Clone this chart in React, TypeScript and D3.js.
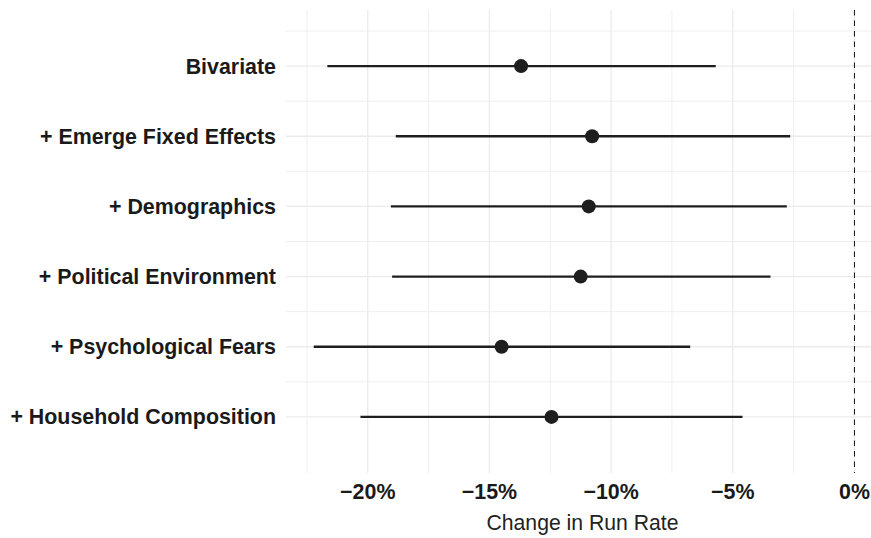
import React from "react";
import * as d3 from "d3";

const models = [
  "Bivariate",
  "+ Emerge Fixed Effects",
  "+ Demographics",
  "+ Political Environment",
  "+ Psychological Fears",
  "+ Household Composition",
];
const estimates = [-13.7, -10.78, -10.92, -11.25, -14.5, -12.45];
const lower = [-21.66, -18.85, -19.05, -19.0, -22.22, -20.3];
const upper = [-5.7, -2.64, -2.78, -3.45, -6.75, -4.6];
const xTicks = [-20, -15, -10, -5, 0];
const xMinorTicks = [-22.5, -17.5, -12.5, -7.5, -2.5];
const yMinorTicks = [-0.5, 0.5, 1.5, 2.5, 3.5, 4.5];

const W = 871;
const H = 538;
const panel = { left: 286, right: 871, top: 10, bottom: 473 };
const FONT = "'Liberation Sans', Arial, Helvetica, sans-serif";

export default function App() {
  const x = d3.scaleLinear().domain([-23.36, 0.68]).range([panel.left, panel.right]);
  const y = d3.scaleLinear().domain([-0.8, 5.8]).range([panel.top, panel.bottom]);
  const fmt = (v: number) => (v < 0 ? "\u2212" + Math.abs(v) : String(v)) + "%";

  return (
    <svg
      width={W}
      height={H}
      style={{ position: "absolute", left: 0, top: 0, background: "#fff" }}
      fontFamily={FONT}
    >
      {xMinorTicks.map((t) => (
        <line key={"xm" + t} x1={x(t)} x2={x(t)} y1={panel.top} y2={panel.bottom} stroke="#efefef" strokeWidth={1} />
      ))}
      {yMinorTicks.map((t) => (
        <line key={"ym" + t} x1={panel.left} x2={panel.right} y1={y(t)} y2={y(t)} stroke="#efefef" strokeWidth={1} />
      ))}
      {xTicks.map((t) => (
        <line key={"xM" + t} x1={x(t)} x2={x(t)} y1={panel.top} y2={panel.bottom} stroke="#ebebeb" strokeWidth={1.3} />
      ))}
      {models.map((m, i) => (
        <line key={"yM" + m} x1={panel.left} x2={panel.right} y1={y(i)} y2={y(i)} stroke="#ebebeb" strokeWidth={1.3} />
      ))}
      <line x1={x(0)} x2={x(0)} y1={panel.top} y2={panel.bottom} stroke="#111" strokeWidth={1} strokeDasharray="5.5,5" />
      {models.map((m, i) => (
        <line key={"ci" + m} x1={x(lower[i])} x2={x(upper[i])} y1={y(i)} y2={y(i)} stroke="#1e1e1e" strokeWidth={2.4} />
      ))}
      {models.map((m, i) => (
        <circle key={"pt" + m} cx={x(estimates[i])} cy={y(i)} r={7} fill="#1e1e1e" />
      ))}
      {models.map((m, i) => (
        <text
          key={"yl" + m}
          x={276}
          y={y(i)}
          dy="0.35em"
          textAnchor="end"
          fontSize={21.4}
          fontWeight="bold"
          fill="#1a1a1a"
        >
          {m}
        </text>
      ))}
      {xTicks.map((t) => (
        <text key={"xl" + t} x={x(t)} y={499} textAnchor="middle" fontSize={21.4} fontWeight="bold" fill="#1a1a1a">
          {fmt(t)}
        </text>
      ))}
      <text x={(panel.left + panel.right) / 2 + 4} y={530} textAnchor="middle" fontSize={21.2} fill="#222">
        Change in Run Rate
      </text>
    </svg>
  );
}
